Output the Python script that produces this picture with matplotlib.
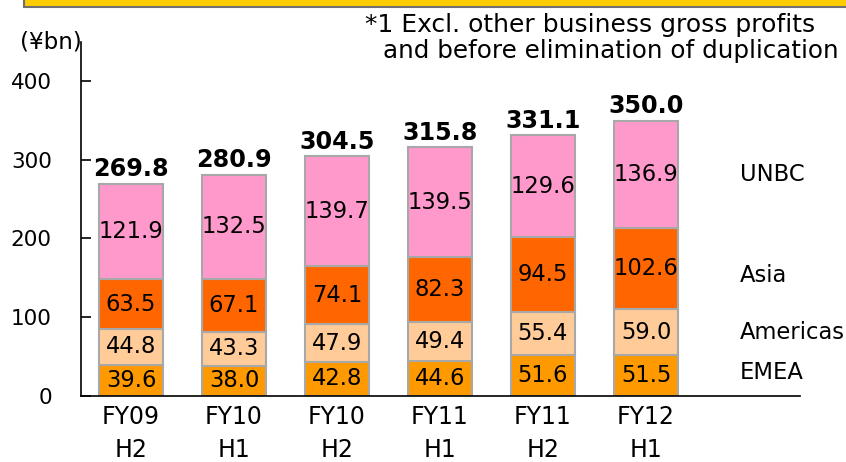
import matplotlib
matplotlib.use("Agg")
import matplotlib.pyplot as plt
from matplotlib.patches import Rectangle

categories = ["FY09\nH2", "FY10\nH1", "FY10\nH2", "FY11\nH1", "FY11\nH2", "FY12\nH1"]
emea = [39.6, 38.0, 42.8, 44.6, 51.6, 51.5]
americas = [44.8, 43.3, 47.9, 49.4, 55.4, 59.0]
asia = [63.5, 67.1, 74.1, 82.3, 94.5, 102.6]
unbc = [121.9, 132.5, 139.7, 139.5, 129.6, 136.9]
totals = [269.8, 280.9, 304.5, 315.8, 331.1, 350.0]
series_names = ["EMEA", "Americas", "Asia", "UNBC"]
colors = ["#FF9900", "#FFCC99", "#FF6600", "#FF99CC"]
yticks = [0, 100, 200, 300, 400]

plt.rcParams['font.family'] = ['DejaVu Sans']

fig = plt.figure(figsize=(8.46, 4.62), dpi=100)
ax = fig.add_axes([81/846, 1-395.7/462, (800-81)/846, (395.7-42)/462])

x = list(range(len(categories)))
series = [emea, americas, asia, unbc]
bottom = [0.0]*len(categories)
for vals, col in zip(series, colors):
    ax.bar(x, vals, width=0.63, bottom=bottom, color=col,
           edgecolor="#A8A8A8", linewidth=1.5, zorder=2)
    for xi, v, b in zip(x, vals, bottom):
        ax.text(xi, b + v/2, f"{v:.1f}", ha="center", va="center",
                fontsize=16.3, color="black", zorder=3)
    bottom = [b + v for b, v in zip(bottom, vals)]

for xi, t in zip(x, totals):
    ax.annotate(f"{t:.1f}", (xi, t), xytext=(0, 10.5), textcoords="offset points",
                ha="center", va="center", fontsize=17.2, fontweight="bold")

ax.set_xlim(-0.485, 6.495)
ax.set_ylim(0, 450)
ax.set_yticks(yticks)
ax.set_yticklabels([str(v) for v in yticks], fontsize=15.5)
ax.tick_params(axis="y", direction="in", length=7, width=1.2, pad=21)
ax.set_xticks(x)
ax.set_xticklabels(categories, fontsize=17, linespacing=1.45)
ax.tick_params(axis="x", length=0, pad=7)
for s in ["top", "right"]:
    ax.spines[s].set_visible(False)
ax.spines["left"].set_linewidth(1.2)
ax.spines["bottom"].set_linewidth(1.2)

# series labels on right
label_y = [29, 81, 153, 281]
for name, yv in zip(series_names, label_y):
    ax.text(5.91, yv, name, ha="left", va="center", fontsize=16.3)

# banner
fig.patches.append(Rectangle((24/846, 1-7/462), 1, 10/462, transform=fig.transFigure,
                             facecolor="#FFCC00", edgecolor="#707070", linewidth=1.5))
fig.text(365/846, 1-32/462, "*1 Excl. other business gross profits", fontsize=18,
         ha="left", va="baseline")
fig.text(383/846, 1-58/462, "and before elimination of duplication", fontsize=17.7,
         ha="left", va="baseline")
fig.text(20/846, 1-42/462, "(¥bn)", fontsize=16.6, ha="left", va="center")

fig.savefig("out.png", dpi=100)
